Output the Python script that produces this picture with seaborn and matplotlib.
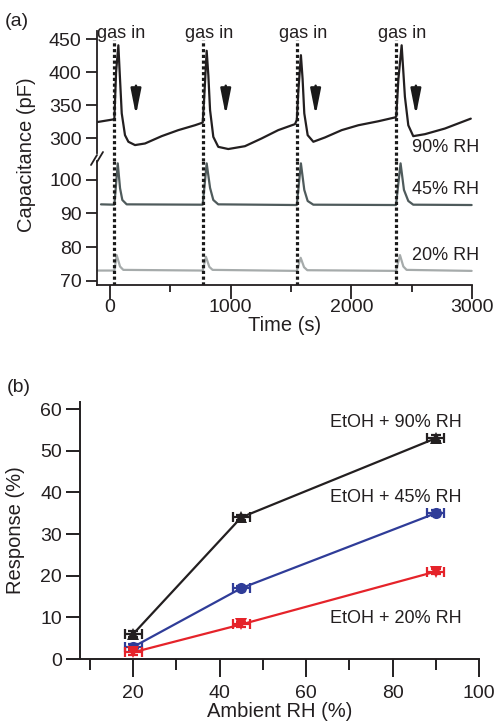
import matplotlib
matplotlib.use("Agg")
import matplotlib.pyplot as plt
from matplotlib.lines import Line2D
import pandas as pd
import seaborn as sns

# panel (a): capacitance traces (time in s, capacitance in pF)
t_90 = [-100, 27, 36, 50, 69, 80, 97, 124, 152, 207, 290, 428, 566, 704, 768, 780, 801, 815, 829,
        856, 897, 980, 1118, 1256, 1394, 1533, 1548, 1560, 1582, 1596, 1610, 1638, 1685, 1781, 1920,
        2058, 2223, 2361, 2372, 2390, 2417, 2444, 2472, 2513, 2610, 2775, 2990]
c_90 = [325, 328.8, 330, 400, 441, 400, 338, 305, 295, 290, 292.4, 303.5, 312.6, 320, 324, 360, 432.7, 395, 343,
        302.4, 287.3, 284, 288.3, 300, 312.6, 321.7, 328, 370, 426, 390, 338, 305, 295, 301.5, 312.6,
        320, 326, 331.8, 333, 390, 441, 363, 320, 303.5, 306.5, 315, 330]

t_45 = [-75, 36, 64, 83, 102, 138, 768, 801, 829, 856, 897, 1548, 1582, 1610, 1638, 1685,
        2370, 2408, 2436, 2472, 2513, 2997]
c_45 = [92.7, 92.6, 104.9, 97.5, 94.0, 92.7, 92.6, 104.9, 97.6, 94.0, 92.7, 92.5, 104.9, 97.0, 93.7, 92.6,
        92.5, 104.9, 97.0, 93.7, 92.6, 92.5]

t_20 = [-100, 36, 55, 83, 110, 768, 795, 823, 850, 1548, 1580, 1608, 1635, 2370, 2403, 2431, 2458, 2997]
c_20 = [73.0, 73.0, 77.6, 74.2, 73.2, 73.0, 77.1, 74.1, 73.2, 72.9, 76.8, 74.0, 73.1, 72.9, 77.6, 74.2, 73.2, 72.9]

gas_in_times = [36, 768, 1548, 2370]
arrow_times = [215, 959, 1704, 2535]

# panel (b): response vs ambient RH
rh = [20, 45, 90]
rh_err = [2, 2, 2]
resp_90 = [6.0, 34.0, 53.0]
resp_45 = [2.9, 17.0, 35.0]
resp_20 = [1.6, 8.3, 21.0]
resp_err = [0.7, 0.6, 0.7]

sns.set_theme(style="ticks")
plt.rcParams["font.family"] = ["Liberation Sans", "DejaVu Sans"]
ink = "#231f20"
plt.rcParams.update({"text.color": ink, "axes.labelcolor": ink, "xtick.color": ink,
                     "ytick.color": ink, "axes.edgecolor": ink})

W, H = 497, 722
fig = plt.figure(figsize=(W / 100, H / 100), dpi=100)


def rect(x0, y0, x1, y1):
    return [x0 / W, 1 - y1 / H, (x1 - x0) / W, (y1 - y0) / H]


ax_top = fig.add_axes(rect(97, 31, 472, 153))
ax_bot = fig.add_axes(rect(97, 161, 472, 285))
ax_b = fig.add_axes(rect(80, 402, 479, 659))

# ---- panel (a)
sns.lineplot(x=t_90, y=c_90, ax=ax_top, color=ink, lw=1.6, sort=False, estimator=None)
sns.lineplot(x=t_45, y=c_45, ax=ax_bot, color="#4f5b5c", lw=1.6, sort=False, estimator=None)
sns.lineplot(x=t_20, y=c_20, ax=ax_bot, color="#a6abab", lw=1.6, sort=False, estimator=None)

for ax in (ax_top, ax_bot):
    ax.set_xlim(-108, 3000)
    ax.spines[["top", "right"]].set_visible(False)
    ax.tick_params(axis="y", direction="out", length=8, width=1.3, labelsize=14, pad=3)
    for l in ax.get_lines():
        l.set_clip_on(False)

ax_top.set_ylim(278, 462.6)
ax_top.set_yticks([300, 350, 400, 450])
ax_top.spines["bottom"].set_visible(False)
ax_top.set_xticks([])
ax_top.spines["left"].set_linewidth(1.3)

ax_bot.set_ylim(68.7, 105.6)
ax_bot.set_yticks([70, 80, 90, 100])
ax_bot.set_xticks([0, 1000, 2000, 3000])
ax_bot.set_xticks([500, 1500, 2500], minor=True)
ax_bot.tick_params(axis="x", which="major", direction="out", length=10, width=1.3, labelsize=14, pad=0)
ax_bot.tick_params(axis="x", which="minor", direction="out", length=5, width=1.3)
for s in ("left", "bottom"):
    ax_bot.spines[s].set_linewidth(1.3)
ax_bot.set_xlabel("Time (s)", fontsize=14.5, labelpad=0)

# gas-in dotted lines spanning both parts
gap = 8 / 122
for t in gas_in_times:
    ax_top.axvline(t, ymin=-gap, ymax=0.926, color="k", lw=2.3, ls=(0, (1, 0.8)), clip_on=False)
    ax_bot.axvline(t, ymin=0, ymax=1, color="k", lw=2.3, ls=(0, (1, 0.8)))
    ax_top.text(t + 55, 459, "gas in", ha="center", va="center", fontsize=13)

for t in arrow_times:
    ax_top.annotate("", xy=(t, 331), xytext=(t, 384),
                    arrowprops=dict(arrowstyle="-|>,head_length=1.1,head_width=0.22",
                                    mutation_scale=14, color="k", lw=1.8))

ax_top.text(2500, 287, "90% RH", ha="left", va="center", fontsize=13)
ax_bot.text(2500, 97, "45% RH", ha="left", va="center", fontsize=13)
ax_bot.text(2500, 77.6, "20% RH", ha="left", va="center", fontsize=13)

# broken-axis marks
for (x0, y0, x1, y1) in [(91, 165, 97, 155), (97, 162, 103, 152)]:
    fig.add_artist(Line2D([x0 / W, x1 / W], [1 - y0 / H, 1 - y1 / H], color=ink, lw=1.3))

fig.text(27 / W, 1 - 155 / H, "Capacitance (pF)", rotation=90, ha="center", va="center", fontsize=14.5)
fig.text(5 / W, 1 - 22 / H, "(a)", ha="left", va="center", fontsize=14)

# ---- panel (b)
series = [(resp_90, ink, "^", "EtOH + 90% RH", 56.8),
          (resp_45, "#2f3c98", "o", "EtOH + 45% RH", 38.8),
          (resp_20, "#e5232a", "v", "EtOH + 20% RH", 9.8)]
for vals, col, mk, name, label_y in series:
    df = pd.DataFrame({"rh": rh, "resp": vals})
    sns.lineplot(data=df, x="rh", y="resp", ax=ax_b, color=col, lw=1.6, marker=mk,
                 markersize=8, markeredgewidth=0, sort=False, estimator=None)
    ax_b.errorbar(rh, vals, xerr=rh_err, yerr=resp_err, fmt="none", ecolor=col,
                  elinewidth=1.6, capsize=3.6, capthick=1.6, clip_on=False)
    ax_b.text(80.7, label_y, name, ha="center", va="center", fontsize=13)

ax_b.set_xlim(7.7, 100)
ax_b.set_ylim(0, 61.7)
ax_b.set_xticks([20, 40, 60, 80, 100])
ax_b.set_xticks([10, 30, 50, 70, 90], minor=True)
ax_b.set_yticks([0, 10, 20, 30, 40, 50, 60])
ax_b.spines[["top", "right"]].set_visible(False)
for s in ("left", "bottom"):
    ax_b.spines[s].set_linewidth(1.4)
ax_b.tick_params(axis="y", direction="out", length=10, width=1.4, labelsize=14, pad=3)
ax_b.tick_params(axis="x", which="major", direction="out", length=13, width=1.4, labelsize=14, pad=6)
ax_b.tick_params(axis="x", which="minor", direction="out", length=8, width=1.4)
ax_b.set_xlabel("Ambient RH (%)", fontsize=14.5, labelpad=0)
ax_b.set_ylabel("")
fig.text(16 / W, 1 - 530 / H, "Response (%)", rotation=90, ha="center", va="center", fontsize=14.5)
fig.text(7 / W, 1 - 388 / H, "(b)", ha="left", va="center", fontsize=14)

fig.savefig("out.png", dpi=100)
